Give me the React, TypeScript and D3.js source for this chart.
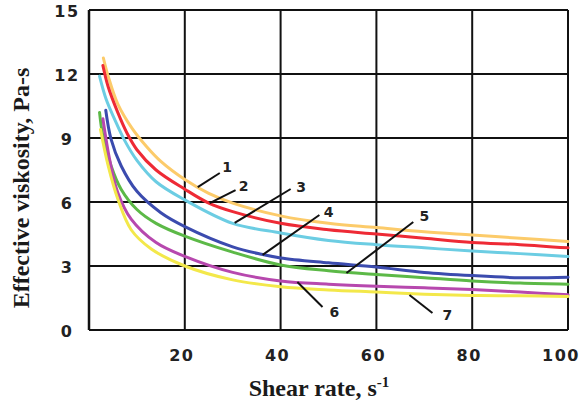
import * as d3 from 'd3';

type Pt = [number, number];

const xTicks = [20, 40, 60, 80, 100];
const yTicks = [0, 3, 6, 9, 12, 15];

const curve1: Pt[] = [[3, 12.75], [4, 11.9], [6, 10.6], [9, 9.45], [12, 8.6], [15, 7.9], [20, 7.05], [25, 6.4], [30, 5.95], [40, 5.35], [50, 5.0], [60, 4.8], [70, 4.6], [80, 4.45], [90, 4.3], [100, 4.15]];
const curve2: Pt[] = [[2.9, 12.4], [4, 11.4], [6, 10.2], [8, 9.2], [10, 8.45], [14, 7.5], [20, 6.6], [25, 5.95], [30, 5.55], [40, 5.0], [50, 4.7], [60, 4.5], [70, 4.3], [80, 4.1], [90, 4.0], [100, 3.85]];
const curve3: Pt[] = [[2.2, 11.9], [3.6, 10.8], [5.4, 9.85], [7.4, 8.9], [10, 7.95], [14, 6.95], [20, 6.1], [30, 5.0], [40, 4.55], [50, 4.2], [60, 4.0], [70, 3.85], [80, 3.7], [90, 3.58], [100, 3.45]];
const curve4: Pt[] = [[3.5, 10.3], [4.6, 8.95], [6.7, 7.7], [10, 6.5], [15, 5.5], [20, 4.85], [30, 3.9], [36, 3.55], [40, 3.38], [50, 3.15], [60, 2.95], [70, 2.7], [80, 2.55], [90, 2.45], [100, 2.47]];
const curve5: Pt[] = [[2.2, 10.2], [2.9, 9.1], [4.6, 7.7], [6.7, 6.6], [10, 5.65], [14, 5.0], [20, 4.4], [30, 3.65], [40, 3.05], [50, 2.78], [60, 2.6], [70, 2.45], [80, 2.3], [90, 2.2], [100, 2.15]];
const curve6: Pt[] = [[2.9, 9.9], [4.3, 8.0], [6, 6.45], [8.8, 5.2], [14, 4.1], [20, 3.45], [30, 2.7], [40, 2.3], [50, 2.15], [60, 2.05], [70, 1.98], [80, 1.9], [90, 1.78], [100, 1.65]];
const curve7: Pt[] = [[2.4, 9.4], [4, 7.7], [6, 6.15], [8.8, 4.7], [13, 3.8], [20, 3.0], [30, 2.35], [40, 2.03], [50, 1.88], [60, 1.78], [70, 1.68], [80, 1.62], [90, 1.6], [100, 1.57]];

const curves = [curve1, curve2, curve3, curve4, curve5, curve6, curve7];
const colors = ['#fccb6a', '#ee2a35', '#6ccde3', '#3b4bae', '#5cb947', '#b748ae', '#f3e84a'];

// label text, label position, leader start (on curve), leader end (data units)
const labelNames = ['1', '2', '3', '4', '5', '6', '7'];
const labelAt: Pt[] = [[28.85, 7.64], [32.3, 6.75], [44.3, 6.68], [50, 5.53], [70, 5.34], [51.25, 0.84], [74.8, 0.7]];
const leaderFrom: Pt[] = [[22.7, 6.7], [25.2, 5.95], [30.4, 5.02], [36.25, 3.52], [53.75, 2.67], [43.5, 2.25], [66.9, 1.64]];
const leaderTo: Pt[] = [[27.3, 7.36], [30.6, 6.56], [42.1, 6.61], [48.1, 5.39], [67.7, 5.06], [48.75, 1.08], [71.7, 0.8]];

const width = 584;
const height = 403;
const margins = { top: 10, right: 16, bottom: 73, left: 89 };

const App = () => {
  const xScale = d3.scaleLinear().domain([0, 100]).range([margins.left, width - margins.right]);
  const yScale = d3.scaleLinear().domain([0, 15]).range([height - margins.bottom, margins.top]);

  const line = d3
    .line<Pt>()
    .x(d => xScale(d[0]))
    .y(d => yScale(d[1]))
    .curve(d3.curveCatmullRom.alpha(0.5));

  const sans = 'DejaVu Sans, Verdana, sans-serif';
  const serif = 'Liberation Serif, Times New Roman, serif';

  return (
    <div style={{ position: 'absolute', left: 0, top: 0 }}>
      <svg width={width} height={height} viewBox={`0 0 ${width} ${height}`} style={{ display: 'block', background: '#fff' }}>
        {/* grid */}
        {xTicks.map(t => (
          <line key={'gx' + t} x1={xScale(t)} x2={xScale(t)} y1={yScale(0)} y2={yScale(15)} stroke="#111" strokeWidth={2} />
        ))}
        {yTicks.map(t => (
          <line key={'gy' + t} x1={xScale(0)} x2={xScale(100)} y1={yScale(t)} y2={yScale(t)} stroke="#111" strokeWidth={2} />
        ))}
        <line x1={xScale(0)} x2={xScale(0)} y1={yScale(0)} y2={yScale(15)} stroke="#111" strokeWidth={2.5} />

        {/* curves */}
        {curves.map((c, i) => (
          <path key={'c' + i} d={line(c) || ''} fill="none" stroke={colors[i]} strokeWidth={3} strokeLinecap="round" />
        ))}

        {/* curve labels */}
        {labelNames.map((name, i) => (
          <g key={'l' + i}>
            <line
              x1={xScale(leaderFrom[i][0])}
              y1={yScale(leaderFrom[i][1])}
              x2={xScale(leaderTo[i][0])}
              y2={yScale(leaderTo[i][1])}
              stroke="#111"
              strokeWidth={2}
            />
            <text
              x={xScale(labelAt[i][0])}
              y={yScale(labelAt[i][1])}
              textAnchor="middle"
              dominantBaseline="central"
              fontFamily={sans}
              fontWeight="bold"
              fontSize={14}
              fill="#222"
            >
              {name}
            </text>
          </g>
        ))}

        {/* tick labels */}
        {yTicks.map(t => (
          <text
            key={'ty' + t}
            x={67}
            y={yScale(t) + 1}
            textAnchor="middle"
            dominantBaseline="central"
            fontFamily={sans}
            fontWeight="bold"
            fontSize={16}
            letterSpacing={1.5}
            fill="#222"
          >
            {t}
          </text>
        ))}
        {xTicks.map(t => (
          <text
            key={'tx' + t}
            x={Math.min(xScale(t) - 3, width - 23)}
            y={361}
            textAnchor="middle"
            fontFamily={sans}
            fontWeight="bold"
            fontSize={16}
            letterSpacing={1.5}
            fill="#222"
          >
            {t}
          </text>
        ))}

        {/* axis titles */}
        <text x={319} y={396} textAnchor="middle" fontFamily={serif} fontWeight="bold" fontSize={24} fill="#1a1a1a">
          Shear rate, s
          <tspan fontSize={15} dy={-9}>-1</tspan>
        </text>
        <text
          transform={`translate(29, 188) rotate(-90)`}
          textAnchor="middle"
          fontFamily={serif}
          fontWeight="bold"
          fontSize={24}
          fill="#1a1a1a"
        >
          Effective viskosity, Pa-s
        </text>
      </svg>
    </div>
  );
};

export default App;
